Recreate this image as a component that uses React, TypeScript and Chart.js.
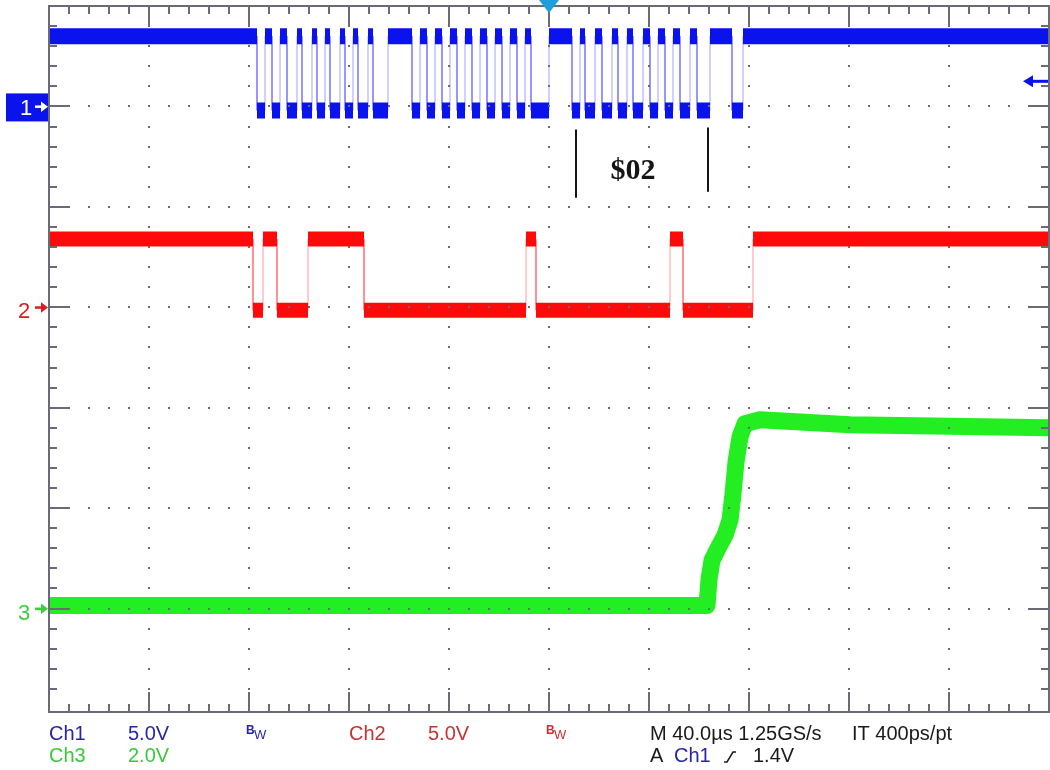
import React, { useEffect, useRef } from "react";
import { Chart, registerables } from "chart.js";

Chart.register(...registerables);

// ---- Graticule: 10 horizontal divisions (40 µs/div), 7 vertical divisions shown ----
const X_MIN = 0;
const X_MAX = 10;
const Y_MIN = -0.03;
const Y_MAX = 7;

// ---- Ch1 (blue, 5.0 V/div): toggle times in divisions, trace starts high ----
const ch1Edges = [
  2.08, 2.16, 2.23, 2.31, 2.38, 2.48, 2.53, 2.63, 2.68, 2.76, 2.81, 2.91, 2.96, 3.04, 3.09, 3.19, 3.24, 3.39,
  3.63, 3.71, 3.78, 3.86, 3.93, 4.01, 4.08, 4.16, 4.23, 4.31, 4.38, 4.46, 4.53, 4.61, 4.68, 4.76, 4.82, 5.0,
  5.23, 5.31, 5.36, 5.46, 5.53, 5.63, 5.69, 5.78, 5.84, 5.94, 6.01, 6.09, 6.16, 6.24, 6.31, 6.41, 6.48, 6.61,
  6.83, 6.94,
];
const ch1Levels = [6.7, 5.96]; // [high, low] in divisions

// ---- Ch2 (red, 5.0 V/div): toggle times, starts high ----
const ch2Edges = [2.04, 2.14, 2.28, 2.59, 3.15, 4.77, 4.87, 6.21, 6.34, 7.04];
const ch2Levels = [4.68, 3.97];

// ---- Ch3 (green, 2.0 V/div): sampled points ----
const ch3Times = [0, 6.58, 6.6, 6.63, 6.69, 6.76, 6.81, 6.84, 6.87, 6.91, 6.96, 7.11, 8.01, 10];
const ch3Values = [1.03, 1.03, 1.29, 1.48, 1.6, 1.73, 1.88, 2.14, 2.46, 2.71, 2.84, 2.88, 2.83, 2.8];

// ---- Channel ground markers (division), trigger ----
const channelNames = ["1", "2", "3"];
const channelGround = [6, 4, 1];
const TRIGGER_TIME = 5.0;
const TRIGGER_LEVEL = 6.25;

// ---- Annotation: byte label ----
const annotationText = "$02";
const annotationX = [5.27, 6.59];
const annotationCenterX = 5.84;

// ---- Status readout text ----
const statusRow1 = ["Ch1", "5.0V", "Ch2", "5.0V", "M 40.0µs 1.25GS/s", "IT 400ps/pt"];
const statusRow2 = ["Ch3", "2.0V", "A", "Ch1", "1.4V"];

type P = { x: number; y: number | null };

function stepPoints(edges: number[], levels: number[]): P[] {
  const pts: P[] = [{ x: X_MIN, y: levels[0] }];
  let s = 0;
  for (const e of edges) {
    pts.push({ x: e, y: levels[s] });
    s = 1 - s;
    pts.push({ x: e, y: levels[s] });
  }
  pts.push({ x: X_MAX, y: levels[s] });
  return pts;
}

function bandPoints(edges: number[], levels: number[]): P[] {
  const pts: P[] = [];
  let s = 0;
  let start = X_MIN;
  for (const e of [...edges, X_MAX]) {
    pts.push({ x: start, y: levels[s] }, { x: e, y: levels[s] }, { x: e, y: null });
    s = 1 - s;
    start = e;
  }
  return pts;
}

const BLUE = "#0a12ee";
const RED = "#ff0a0a";
const GREEN = "#22ee22";
const FONT = '"Liberation Sans", Arial, sans-serif';

const graticulePlugin = {
  id: "graticule",
  afterDatasetsDraw(chart: any) {
    const { ctx, chartArea, scales } = chart;
    const { left, right, top, bottom } = chartArea;
    const xs = scales.x;
    const ys = scales.y;
    ctx.save();
    // dotted grid
    ctx.fillStyle = "#6c6c6c";
    for (let i = 1; i < 10; i++) {
      const px = Math.round(xs.getPixelForValue(i));
      for (let k = 1; k < 35; k++) {
        const py = Math.round(ys.getPixelForValue(Y_MAX - k * 0.2));
        ctx.fillRect(px - 1, py - 1, 2, 2);
      }
    }
    for (let i = 1; i < 7; i++) {
      const py = Math.round(ys.getPixelForValue(i));
      for (let j = 1; j < 50; j++) {
        const px = Math.round(xs.getPixelForValue(j * 0.2));
        ctx.fillRect(px - 1, py - 1, 2, 2);
      }
    }
    // border
    ctx.strokeStyle = "#6a6a78";
    ctx.lineWidth = 2;
    ctx.strokeRect(left, top, right - left, bottom - top);
    // ticks
    ctx.beginPath();
    for (let j = 1; j < 50; j++) {
      const px = Math.round(xs.getPixelForValue(j * 0.2));
      const len = j % 5 === 0 ? 20 : 8;
      ctx.moveTo(px, top);
      ctx.lineTo(px, top + len);
      ctx.moveTo(px, bottom);
      ctx.lineTo(px, bottom - len);
    }
    for (let k = 1; k < 35; k++) {
      const py = Math.round(ys.getPixelForValue(Y_MAX - k * 0.2));
      const len = k % 5 === 0 ? 20 : 8;
      ctx.moveTo(left, py);
      ctx.lineTo(left + len, py);
      ctx.moveTo(right, py);
      ctx.lineTo(right - len, py);
    }
    ctx.stroke();
    ctx.restore();
  },
  afterDraw(chart: any) {
    const { ctx, chartArea, scales } = chart;
    const xs = scales.x;
    const ys = scales.y;
    ctx.save();

    // trigger position marker
    const tx = xs.getPixelForValue(TRIGGER_TIME);
    ctx.fillStyle = "#1c9fdb";
    ctx.beginPath();
    ctx.moveTo(tx - 10, 0);
    ctx.lineTo(tx + 10, 0);
    ctx.lineTo(tx, 13);
    ctx.closePath();
    ctx.fill();

    // trigger level arrow (right)
    const ty = ys.getPixelForValue(TRIGGER_LEVEL);
    ctx.fillStyle = BLUE;
    ctx.fillRect(1030, ty - 1.5, 18, 3);
    ctx.beginPath();
    ctx.moveTo(1023, ty);
    ctx.lineTo(1033, ty - 6);
    ctx.lineTo(1033, ty + 6);
    ctx.closePath();
    ctx.fill();

    // channel ground markers
    const markerColors = ["#ffffff", "#d42020", "#3ccf3c"];
    channelNames.forEach((name, i) => {
      const py = ys.getPixelForValue(channelGround[i]);
      if (i === 0) {
        ctx.fillStyle = BLUE;
        ctx.fillRect(6, py - 13, 42, 28);
      }
      ctx.fillStyle = markerColors[i];
      ctx.font = `22px ${FONT}`;
      ctx.textAlign = "left";
      ctx.textBaseline = "alphabetic";
      ctx.fillText(name, i === 0 ? 20 : 18, py + (i === 0 ? 9 : 11));
      ctx.fillRect(35, py - 1, 8, 2.5);
      ctx.beginPath();
      ctx.moveTo(48, py + 0.25);
      ctx.lineTo(41, py - 5);
      ctx.lineTo(41, py + 5.5);
      ctx.closePath();
      ctx.fill();
    });

    // byte annotation
    ctx.strokeStyle = "#151515";
    ctx.lineWidth = 2;
    ctx.beginPath();
    const a0 = xs.getPixelForValue(annotationX[0]);
    const a1 = xs.getPixelForValue(annotationX[1]);
    ctx.moveTo(a0, ys.getPixelForValue(5.77));
    ctx.lineTo(a0, ys.getPixelForValue(5.09));
    ctx.moveTo(a1, ys.getPixelForValue(5.79));
    ctx.lineTo(a1, ys.getPixelForValue(5.15));
    ctx.stroke();
    ctx.fillStyle = "#151515";
    ctx.font = 'bold 30px "Liberation Serif", "Times New Roman", serif';
    ctx.textAlign = "center";
    ctx.fillText(annotationText, xs.getPixelForValue(annotationCenterX), ys.getPixelForValue(5.28));

    // status readout
    const y1 = chartArea.bottom + 28;
    const y2 = chartArea.bottom + 50;
    ctx.textAlign = "left";
    ctx.font = `20px ${FONT}`;
    const dBlue = "#2626a6";
    const dRed = "#c83232";
    const dGreen = "#3cc83c";
    const black = "#1a1a1a";
    const row1Pos = [49, 128, 349, 428, 650, 852];
    const row1Col = [dBlue, dBlue, dRed, dRed, black, black];
    statusRow1.forEach((t, i) => {
      ctx.fillStyle = row1Col[i];
      ctx.fillText(t, row1Pos[i], y1);
    });
    const row2Pos = [49, 128, 650, 674, 753];
    const row2Col = [dGreen, dGreen, black, dBlue, black];
    statusRow2.forEach((t, i) => {
      ctx.fillStyle = row2Col[i];
      ctx.fillText(t, row2Pos[i], y2);
    });
    // bandwidth-limit badges
    [[246, dBlue], [546, dRed]].forEach(([bx, col]) => {
      ctx.fillStyle = col as string;
      ctx.font = `bold 12px ${FONT}`;
      ctx.fillText("B", bx as number, y1 - 6);
      ctx.font = `13px ${FONT}`;
      ctx.fillText("W", (bx as number) + 8, y1 - 1);
    });
    // rising-edge slope symbol
    ctx.strokeStyle = black;
    ctx.lineWidth = 1.5;
    ctx.beginPath();
    ctx.moveTo(724, y2);
    ctx.lineTo(727, y2);
    ctx.lineTo(733, y2 - 10);
    ctx.lineTo(736, y2 - 10);
    ctx.stroke();

    ctx.restore();
  },
};

export default function App() {
  const canvasRef = useRef<HTMLCanvasElement | null>(null);

  useEffect(() => {
    const canvas = canvasRef.current;
    if (!canvas) return;
    const ch3Points = ch3Times.map((t, i) => ({ x: t, y: ch3Values[i] }));
    const chart = new Chart(canvas, {
      type: "line",
      data: {
        datasets: [
          {
            label: "Ch3",
            data: ch3Points,
            borderColor: GREEN,
            borderWidth: 17,
            pointRadius: 0,
            tension: 0,
            borderJoinStyle: "round",
          },
          {
            label: "Ch2 band",
            data: bandPoints(ch2Edges, ch2Levels) as any,
            borderColor: RED,
            borderWidth: 15,
            borderCapStyle: "butt",
            pointRadius: 0,
            spanGaps: false,
          },
          {
            label: "Ch2 edges",
            data: stepPoints(ch2Edges, ch2Levels) as any,
            borderColor: "rgba(255,90,90,0.6)",
            borderWidth: 1,
            pointRadius: 0,
          },
          {
            label: "Ch1 band",
            data: bandPoints(ch1Edges, ch1Levels) as any,
            borderColor: BLUE,
            borderWidth: 16,
            borderCapStyle: "butt",
            pointRadius: 0,
            spanGaps: false,
          },
          {
            label: "Ch1 edges",
            data: stepPoints(ch1Edges, ch1Levels) as any,
            borderColor: "rgba(90,90,255,0.55)",
            borderWidth: 1,
            pointRadius: 0,
          },
        ],
      },
      options: {
        responsive: false,
        animation: false,
        events: [],
        layout: { padding: { left: 49, right: 1, top: 6, bottom: 58 } },
        scales: {
          x: { type: "linear", min: X_MIN, max: X_MAX, display: false },
          y: { type: "linear", min: Y_MIN, max: Y_MAX, display: false },
        },
        plugins: {
          legend: { display: false },
          tooltip: { enabled: false },
        },
      },
      plugins: [graticulePlugin],
    });
    return () => chart.destroy();
  }, []);

  return (
    <div style={{ position: "absolute", left: 0, top: 0, width: 1050, height: 770, background: "#ffffff" }}>
      <canvas ref={canvasRef} width={1050} height={770} style={{ width: 1050, height: 770, display: "block" }} />
    </div>
  );
}
